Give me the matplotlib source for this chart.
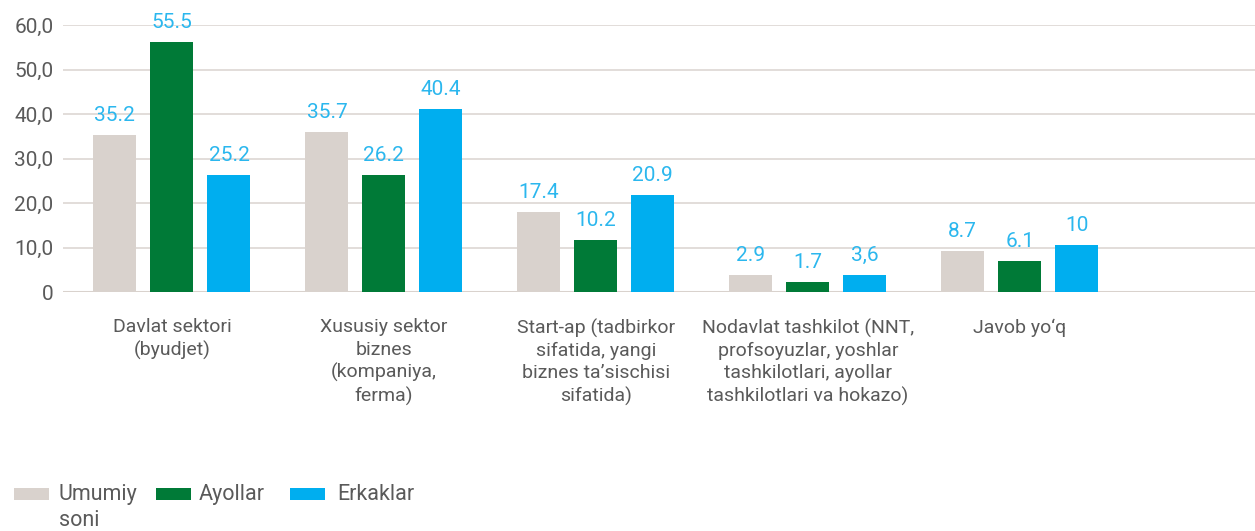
import matplotlib
matplotlib.use("Agg")
import matplotlib.pyplot as plt
from matplotlib.patches import Rectangle
import numpy as np

plt.rcParams['font.family'] = ['Roboto', 'DejaVu Sans']

categories = [
    "Davlat sektori\n(byudjet)",
    "Xususiy sektor\nbiznes\n(kompaniya,\nferma)",
    "Start-ap (tadbirkor\nsifatida, yangi\nbiznes ta\u2019sischisi\nsifatida)",
    "Nodavlat tashkilot (NNT,\nprofsoyuzlar, yoshlar\ntashkilotlari, ayollar\ntashkilotlari va hokazo)",
    "Javob yo\u2018q",
]
series_names = ["Umumiy\nsoni", "Ayollar", "Erkaklar"]

# bar heights as drawn in the picture
umumiy = [35.3, 36.0, 18.0, 3.8, 9.2]
ayollar = [56.2, 26.3, 11.7, 2.3, 7.0]
erkaklar = [26.3, 41.2, 21.8, 3.8, 10.6]

# data label texts as printed
umumiy_labels = ["35.2", "35.7", "17.4", "2.9", "8.7"]
ayollar_labels = ["55.5", "26.2", "10.2", "1.7", "6.1"]
erkaklar_labels = ["25.2", "40.4", "20.9", "3,6", "10"]

yticks = [0, 10, 20, 30, 40, 50, 60]
ytick_labels = ["0", "10,0", "20,0", "30,0", "40,0", "50,0", "60,0"]

colors = ["#d9d2cd", "#007a37", "#00aeef"]
label_color = "#2bb7ee"
text_color = "#5a5a5a"
grid_color = "#ddd7d3"

fig = plt.figure(figsize=(12.55, 5.31), dpi=100)
ax = fig.add_axes([63 / 1255, 239 / 531, 1 - 63 / 1255, 267 / 531])

x = np.arange(len(categories))
offsets = [-0.269, 0.0, 0.269]
width = 0.203
all_vals = [umumiy, ayollar, erkaklar]
all_labels = [umumiy_labels, ayollar_labels, erkaklar_labels]

for vals, labs, off, col in zip(all_vals, all_labels, offsets, colors):
    bars = ax.bar(x + off, vals, width=width, color=col, zorder=3)
    for b, lab in zip(bars, labs):
        ax.annotate(lab, (b.get_x() + b.get_width() / 2, b.get_height()),
                    xytext=(0, 10), textcoords="offset points",
                    ha="center", va="baseline", fontsize=15,
                    color=label_color, zorder=4)

ax.set_xlim(-0.514, 5.11)
ax.set_ylim(0, 60)
ax.set_yticks(yticks)
ax.set_yticklabels(ytick_labels, fontsize=15, color=text_color)
ax.set_xticks(x)
ax.set_xticklabels(categories, fontsize=14, color=text_color, linespacing=1.3)
ax.tick_params(axis="y", length=0, pad=7)
ax.tick_params(axis="x", length=0, pad=19)
for sp in ax.spines.values():
    sp.set_visible(False)
ax.yaxis.grid(True, color=grid_color, linewidth=1.2, zorder=0)
ax.axhline(0, color="#d9d2cd", linewidth=2.2, zorder=2)
ax.set_axisbelow(True)

# legend drawn manually
W, H = 1255, 531
leg_items = [(14, 59), (156, 199), (290, 337)]
for (px, tx), name, col in zip(leg_items, series_names, colors):
    fig.add_artist(Rectangle((px / W, (H - 500) / H), 35 / W, 12 / H,
                             transform=fig.transFigure, color=col, lw=0))
    fig.text(tx / W, (H - 484) / H, name, fontsize=15.5, color=text_color,
             ha="left", va="top", linespacing=1.3)

fig.savefig("out.png", dpi=100)
